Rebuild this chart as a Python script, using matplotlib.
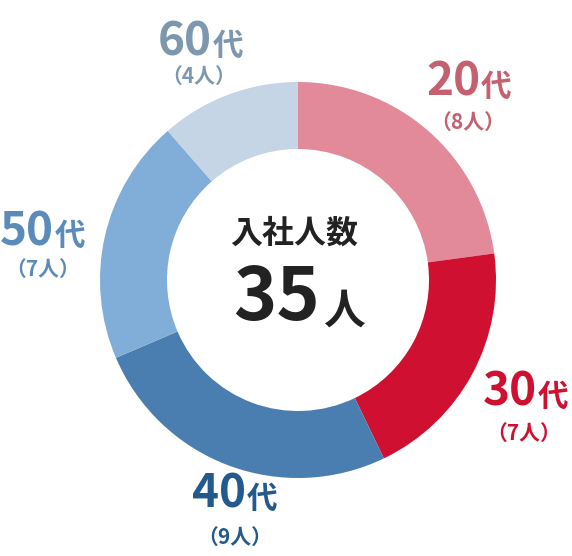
import matplotlib.pyplot as plt

plt.rcParams['font.family'] = ['Noto Sans CJK JP', 'DejaVu Sans']

# data
ages = ['20', '30', '40', '50', '60']
counts = [8, 7, 9, 7, 4]
ring_colors = ['#E28A99', '#CF1031', '#4A7EB0', '#80AED8', '#C5D5E5']
label_colors = ['#C4606F', '#CF1031', '#235A8E', '#5A8BBB', '#7C97AE']
total = sum(counts)

W, H = 572, 556
fig = plt.figure(figsize=(W / 100, H / 100), dpi=100)
ax = fig.add_axes([0, 0, 1, 1])

cx, cy = 298, H - 280
R = 198
ax.pie(counts, colors=ring_colors, startangle=90, counterclock=False,
       center=(cx, cy), radius=R,
       wedgeprops=dict(width=R - 131, linewidth=0))

ax.set_xlim(0, W)
ax.set_ylim(0, H)
ax.set_aspect('equal')
ax.axis('off')

# label anchor: x where digits end / 代 starts, baseline y (pixels from top), sub-label centre
label_pos = [(480, 96, 468, 122),
             (537, 406, 524, 433),
             (246, 508, 235, 537),
             (54, 245, 43, 269),
             (212, 55, 199, 76)]

for age, n, col, (bx, by, sx, sy) in zip(ages, counts, label_colors, label_pos):
    ax.text(bx, H - by, age, ha='right', va='baseline', fontsize=33,
            fontweight='bold', color=col)
    ax.text(bx + 1, H - by, '代', ha='left', va='baseline', fontsize=22,
            fontweight='bold', color=col)
    ax.text(sx, H - sy, f'（{n}人）', ha='center', va='center', fontsize=15,
            fontweight='bold', color=col)

# centre text
ax.text(294, H - 234, '入社人数', ha='center', va='center', fontsize=23,
        fontweight='bold', color='#222222')
ax.text(320, H - 320, str(total), ha='right', va='baseline', fontsize=53,
        fontweight='bold', color='#222222')
ax.text(323, H - 324, '人', ha='left', va='baseline', fontsize=30,
        fontweight='bold', color='#222222')

fig.savefig('out.png', dpi=100)
